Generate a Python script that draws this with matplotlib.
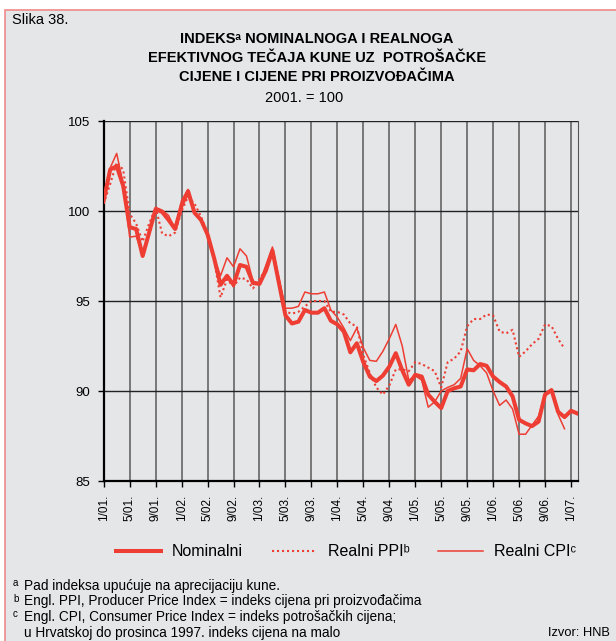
import matplotlib
matplotlib.use("Agg")
import matplotlib.pyplot as plt
from matplotlib.patches import Rectangle
from matplotlib.lines import Line2D

plt.rcParams['font.family'] = ['Liberation Sans', 'DejaVu Sans']

# mjesečni podaci, 1/2001 - 2/2007
nominalni = [100.6, 102.3, 102.5, 101.4, 99.1, 99.0, 97.5, 98.8, 100.1, 99.95, 99.5, 99.0,
             100.3, 101.1, 99.9, 99.5, 98.7, 97.4, 95.9, 96.4, 95.9, 97.0, 96.9, 96.0,
             95.95, 96.7, 97.8, 96.0, 94.2, 93.75, 93.85, 94.5, 94.35, 94.35, 94.6, 93.9,
             93.7, 93.3, 92.15, 92.65, 91.6, 90.8, 90.55, 90.85, 91.35, 92.1, 91.15, 90.35,
             90.9, 90.8, 89.8, 89.4, 89.05, 90.0, 90.15, 90.25, 91.2, 91.15, 91.5, 91.4,
             90.8, 90.5, 90.25, 89.7, 88.4, 88.2, 88.05, 88.3, 89.8, 90.05, 88.85, 88.55,
             88.9, 88.75]
realni_ppi = [100.4, 101.5, 102.7, 102.3, 99.85, 99.3, 98.3, 99.3, 100.2, 98.75, 98.6, 98.8,
              100.0, 100.8, 100.4, 99.7, 98.7, 97.3, 95.2, 96.2, 95.8, 96.3, 96.2, 95.7,
              96.2, 96.8, 97.7, 96.2, 94.4, 94.3, 94.4, 94.7, 95.0, 95.0, 95.0, 94.4,
              94.4, 94.25, 93.75, 93.6, 92.0, 91.0, 90.2, 89.8, 90.3, 91.2, 91.2, 91.1,
              91.6, 91.5, 91.3, 91.1, 90.2, 91.6, 91.8, 92.2, 93.6, 94.0, 94.0, 94.25,
              94.2, 93.3, 93.2, 93.4, 91.9, 92.2, 92.6, 92.9, 93.7, 93.6, 92.9, 92.35]
realni_cpi = [100.6, 102.4, 103.2, 101.5, 98.55, 98.6, 97.6, 98.9, 100.2, 100.05, 99.75, 99.0,
              100.6, 101.2, 99.85, 99.6, 98.7, 97.4, 96.4, 97.4, 96.9, 97.9, 97.5, 96.1,
              96.0, 97.0, 98.0, 96.2, 94.6, 94.6, 94.7, 95.5, 95.4, 95.4, 95.5, 94.5,
              94.1, 93.5, 92.8, 93.5, 92.4, 91.7, 91.65, 92.2, 92.9, 93.7, 92.5, 90.6,
              90.85, 90.6, 89.1, 89.4, 90.0, 90.2, 90.35, 90.7, 92.35, 91.7, 91.4, 91.0,
              90.0, 89.2, 89.5, 89.0, 87.6, 87.6, 88.1, 88.6, 89.85, 90.1, 88.7, 87.9]

tick_labels = ['1/01.', '5/01.', '9/01.', '1/02.', '5/02.', '9/02.', '1/03.', '5/03.',
               '9/03.', '1/04.', '5/04.', '9/04.', '1/05.', '5/05.', '9/05.', '1/06.',
               '5/06.', '9/06.', '1/07.']
y_ticks = [85, 90, 95, 100, 105]

crvena = '#ee3d33'
siva = '#e5e6e8'

fig = plt.figure(figsize=(6.16, 6.41), dpi=100)
fig.patch.set_facecolor('white')
fig.add_artist(Rectangle((5 / 616, -0.02), 1.0, (641 - 10) / 641 + 0.02,
                         transform=fig.transFigure, facecolor=siva,
                         edgecolor='#f08a8a', linewidth=1.2, zorder=0))

ax = fig.add_axes([103.7 / 616, 1 - 481 / 641, (577.5 - 103.7) / 616, 360 / 641])
ax.set_facecolor(siva)

ax.plot(range(len(realni_ppi)), realni_ppi, color=crvena, lw=1.5,
        linestyle=(0, (1, 1.4)), zorder=3)
ax.plot(range(len(realni_cpi)), realni_cpi, color=crvena, lw=1.1, zorder=3)
ax.plot(range(len(nominalni)), nominalni, color=crvena, lw=2.9, zorder=4)

ax.set_xlim(0, 73)
ax.set_ylim(85, 105)
ax.set_xticks(range(0, 73, 4))
ax.set_xticklabels(tick_labels, rotation=90, fontsize=8.5)
ax.set_yticks(y_ticks)
ax.set_yticklabels([str(v) for v in y_ticks], fontsize=9.5)
ax.tick_params(axis='x', direction='out', length=4, width=1.0, pad=6)
ax.tick_params(axis='y', direction='out', length=4, width=1.0, pad=6)

ax.grid(axis='x', color='#5a5a5a', lw=1.1, zorder=1)
ax.grid(axis='y', color='#222222', lw=1.0, zorder=1)
ax.set_axisbelow(True)
ax.spines['right'].set_color('#555555')
ax.spines['top'].set_visible(False)
ax.spines['left'].set_linewidth(1.6)
ax.spines['bottom'].set_linewidth(1.6)

# naslov
fig.text(12 / 616, 1 - 20 / 641, 'Slika 38.', fontsize=10.5, va='center', ha='left')
naslov = ['INDEKSᵃ NOMINALNOGA I REALNOGA',
          'EFEKTIVNOG TEČAJA KUNE UZ  POTROŠAČKE',
          'CIJENE I CIJENE PRI PROIZVOĐAČIMA']
for i, red in enumerate(naslov):
    fig.text(317 / 616, 1 - (39 + 19 * i) / 641, red, fontsize=10.5,
             fontweight='bold', ha='center', va='center')
fig.text(304 / 616, 1 - 98 / 641, '2001. = 100', fontsize=10.5, ha='center', va='center')

# legenda
handles = [Line2D([], [], color=crvena, lw=2.9),
           Line2D([], [], color=crvena, lw=1.5, linestyle=(0, (1, 1.4))),
           Line2D([], [], color=crvena, lw=1.1)]
labels = ['Nominalni', 'Realni PPIᵇ', 'Realni CPIᶜ']
fig.legend(handles, labels, loc='center', bbox_to_anchor=(346 / 616, 1 - 552 / 641),
           ncol=3, frameon=False, fontsize=11.5, handlelength=2.8, handletextpad=0.7,
           columnspacing=1.8)

# fusnote
fusnote = [('a', 'Pad indeksa upućuje na aprecijaciju kune.'),
           ('b', 'Engl. PPI, Producer Price Index = indeks cijena pri proizvođačima'),
           ('c', 'Engl. CPI, Consumer Price Index = indeks potrošačkih cijena;'),
           ('', 'u Hrvatskoj do prosinca 1997. indeks cijena na malo')]
for i, (slovo, tekst) in enumerate(fusnote):
    y = 1 - (586 + 15.5 * i) / 641
    if slovo:
        fig.text(13 / 616, y + 0.004, slovo, fontsize=7, va='center')
    fig.text(24 / 616, y, tekst, fontsize=9.8, va='center')
fig.text(548 / 616, 1 - 633 / 641, 'Izvor: HNB', fontsize=9.3, va='center')

fig.savefig('out.png', dpi=100, facecolor=fig.get_facecolor())
